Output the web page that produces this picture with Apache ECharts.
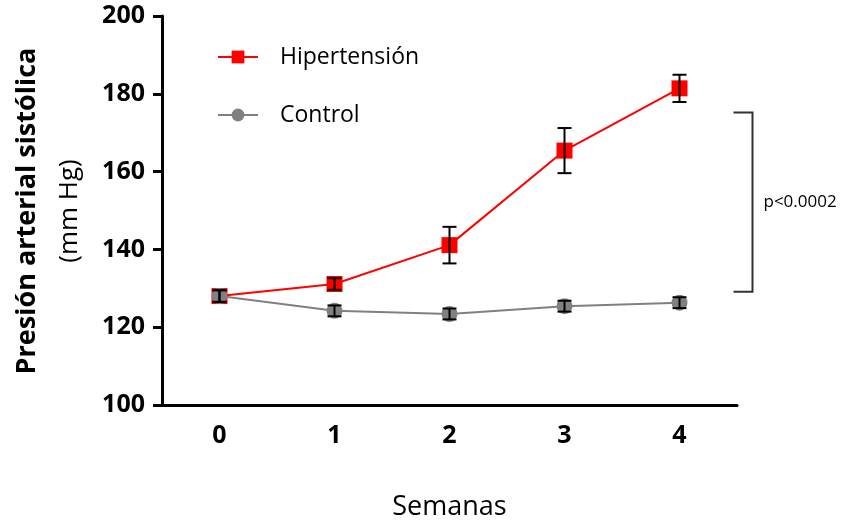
<!DOCTYPE html>
<html><head><meta charset="utf-8">
<script src="https://cdn.jsdelivr.net/npm/echarts@6/dist/echarts.min.js"></script>
<style>html,body{margin:0;padding:0;background:#fff}#c{width:845px;height:521px}</style>
</head><body><div id="c"></div>
<script>
const weeks = ['0','1','2','3','4'];
const hiperMean = [128.0, 131.1, 141.1, 165.4, 181.4];
const hiperErr  = [1.5, 1.5, 4.7, 5.8, 3.5];
const ctrlMean  = [128.0, 124.2, 123.4, 125.4, 126.3];
const ctrlErr   = [1.5, 1.4, 1.4, 1.4, 1.4];
const yTicks = [100, 120, 140, 160, 180, 200];
const bracketRange = [175.2, 129.1];
const pLabel = 'p<0.0002';

const FONT = '"Open Sans", sans-serif';
const chart = echarts.init(document.getElementById('c'), null, {renderer:'canvas'});

function errData(mean, err){ return mean.map((m,i)=>[i, m-err[i], m+err[i]]); }
function errRender(params, api){
  const x = api.value(0);
  const lo = api.coord([x, api.value(1)]);
  const hi = api.coord([x, api.value(2)]);
  const w = 7;
  const st = {stroke:'#000', lineWidth:2};
  return {type:'group', children:[
    {type:'line', shape:{x1:lo[0],y1:lo[1],x2:hi[0],y2:hi[1]}, style:st},
    {type:'line', shape:{x1:lo[0]-w,y1:lo[1],x2:lo[0]+w,y2:lo[1]}, style:st},
    {type:'line', shape:{x1:hi[0]-w,y1:hi[1],x2:hi[0]+w,y2:hi[1]}, style:st}
  ]};
}

chart.setOption({
  animation:false,
  grid:{left:162, right:108, top:16, bottom:116, containLabel:false, outerBoundsMode:'none'},
  legend:{
    orient:'vertical', left:217, top:45, padding:0, itemGap:34, itemWidth:40, itemHeight:16,
    textStyle:{fontFamily:FONT, fontSize:23, lineHeight:24, color:'#000', padding:[0,0,0,17]},
    data:['Hipertensión','Control']
  },
  xAxis:{
    type:'category', data:weeks, boundaryGap:true,
    name:'Semanas', nameLocation:'middle', nameGap:89,
    nameTextStyle:{fontFamily:FONT, fontSize:27, color:'#000'},
    axisLine:{lineStyle:{color:'#000', width:3}},
    axisTick:{alignWithLabel:true, length:8, lineStyle:{color:'#000', width:3}},
    axisLabel:{fontFamily:FONT, fontSize:25, fontWeight:'bold', color:'#000', margin:18}
  },
  yAxis:{
    type:'value', min:yTicks[0], max:yTicks[yTicks.length-1], interval:20,
    axisLine:{show:true, lineStyle:{color:'#000', width:3}},
    axisTick:{show:true, length:9, lineStyle:{color:'#000', width:3}},
    splitLine:{show:false},
    axisLabel:{fontFamily:FONT, fontSize:25, fontWeight:'bold', color:'#000', margin:17}
  },
  graphic:[
    {type:'text', x:27, y:211, rotation:Math.PI/2, style:{text:'Presión arterial sistólica', font:'bold 27px '+FONT, fill:'#000', textAlign:'center', textVerticalAlign:'middle'}},
    {type:'text', x:70, y:211, rotation:Math.PI/2, style:{text:'(mm Hg)', font:'26px '+FONT, fill:'#000', textAlign:'center', textVerticalAlign:'middle'}}
  ],
  series:[
    {name:'Hipertensión', type:'line', data:hiperMean, symbol:'rect', symbolSize:16,
     itemStyle:{color:'#ff0000'}, lineStyle:{color:'#ff0000', width:2}, z:2},
    {name:'Control', type:'line', data:ctrlMean, symbol:'circle', symbolSize:16,
     itemStyle:{color:'#808080'}, lineStyle:{color:'#808080', width:2}, z:3},
    {type:'custom', data:errData(hiperMean,hiperErr), renderItem:errRender, z:5, silent:true},
    {type:'custom', data:errData(ctrlMean,ctrlErr), renderItem:errRender, z:5, silent:true},
    {type:'custom', data:[[4, bracketRange[0], bracketRange[1]]], clip:false, silent:true, z:5,
     renderItem:function(params, api){
       const a = api.coord([api.value(0), api.value(1)]);
       const b = api.coord([api.value(0), api.value(2)]);
       const x = a[0] + 73;
       const st = {stroke:'#333', lineWidth:2, fill:null};
       return {type:'group', children:[
         {type:'polyline', shape:{points:[[x-19,a[1]],[x,a[1]],[x,b[1]],[x-19,b[1]]]}, style:st},
         {type:'text', x:x+11, y:(a[1]+b[1])/2, style:{text:pLabel, font:'17px '+FONT, fill:'#000', textVerticalAlign:'middle'}}
       ]};
     }}
  ]
});
</script></body></html>
